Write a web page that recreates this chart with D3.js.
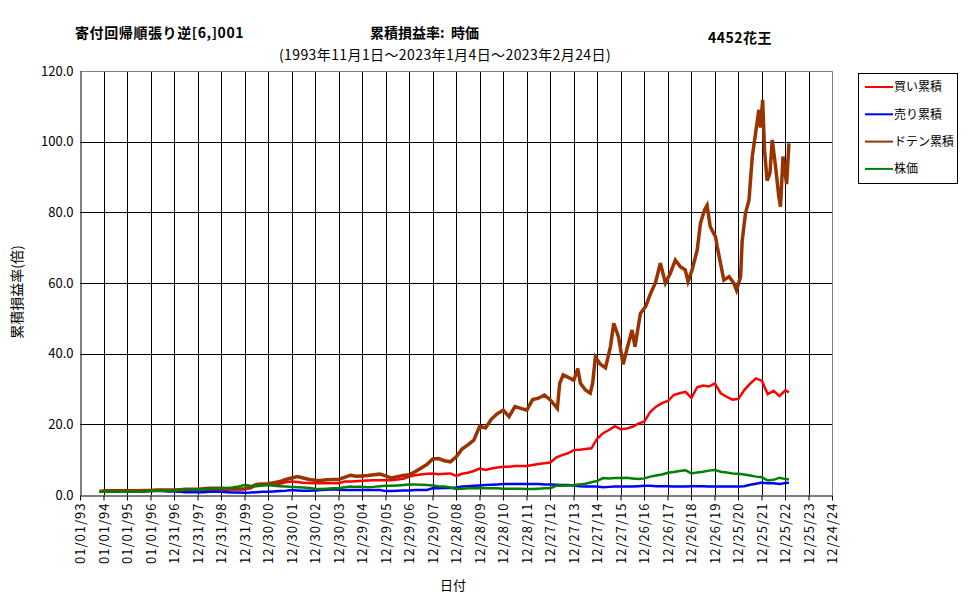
<!DOCTYPE html>
<html>
<head>
<meta charset="utf-8">
<script src="https://cdn.jsdelivr.net/npm/d3@7"></script>
<style>
  body { margin: 0; background: #fff; }
  svg { display: block; font-family: "MS PGothic", "Noto Sans CJK JP", sans-serif; }
</style>
</head>
<body>
<div id="vis"></div>
<script>
// series names, as in the legend
const seriesNames = ["買い累積", "売り累積", "ドテン累積", "株価"];

// first and last trading day, quarterly points in between (1994/01 .. 2023/01)
const firstDay = "1993-11-01";
const lastDay = "2023-02-24";

// values, one per quarterly point
const buyValues = [1.0,
  1.1, 1.1, 1.2, 1.2,   // 1994
  1.2, 1.2, 1.2, 1.2,   // 1995
  1.3, 1.3, 1.3, 1.3,   // 1996
  1.3, 1.4, 1.4, 1.4,   // 1997
  1.4, 1.5, 1.5, 1.5,   // 1998
  1.5, 1.5, 1.6, 1.6,   // 1999
  1.6, 1.9, 2.7, 2.8,   // 2000
  2.8, 2.9, 3.2, 3.6,   // 2001
  3.8, 3.7, 3.5, 3.4,   // 2002
  3.3, 3.3, 3.3, 3.3,   // 2003
  3.3, 3.8, 3.8, 3.9,   // 2004
  4.0, 4.1, 4.2, 4.2,   // 2005
  4.2, 4.2, 4.4, 4.6,   // 2006
  5.2, 5.6, 5.8, 6.0,   // 2007
  6.1, 5.9, 6.0, 6.1,   // 2008
  5.4, 6.0, 6.3, 6.8,   // 2009
  7.5, 7.1, 7.5, 7.8,   // 2010
  8.0, 8.0, 8.2, 8.2,   // 2011
  8.2, 8.5, 8.8, 9.0,   // 2012
  9.2, 10.6, 11.3, 11.8, // 2013
  12.7, 12.8, 13.0, 13.2, // 2014
  16.0, 17.5, 18.4, 19.5, // 2015
  18.6, 18.8, 19.3, 20.2, // 2016
  20.8, 23.5, 25.0, 26.0, // 2017
  26.6, 28.3, 28.8, 29.2, // 2018
  27.5, 30.5, 31.0, 30.7, // 2019
  31.6, 28.8, 27.8, 27.0, // 2020
  27.2, 29.7, 31.5, 33.0, // 2021
  32.3, 28.5, 29.5, 28.0, // 2022
  29.7, 29.0];

const sellValues = [1.0,
  1.1, 1.1, 1.1, 1.1,
  1.1, 1.1, 1.1, 1.1,
  1.1, 1.1, 1.1, 1.0,
  1.0, 0.9, 0.8, 0.8,
  0.75, 0.8, 0.9, 0.9,
  0.9, 0.8, 0.7, 0.7,
  0.66, 0.7, 0.8, 0.9,
  0.9, 1.0, 1.1, 1.2,
  1.4, 1.3, 1.2, 1.2,
  1.3, 1.4, 1.5, 1.6,
  1.5, 1.4, 1.4, 1.4,
  1.4, 1.4, 1.4, 1.4,
  1.1, 1.1, 1.2, 1.3,
  1.3, 1.4, 1.4, 1.4,
  1.9, 1.9, 2.0, 2.0,
  2.1, 2.4, 2.5, 2.6,
  2.7, 2.8, 2.9, 3.0,
  3.1, 3.1, 3.1, 3.1,
  3.1, 3.1, 3.1, 3.0,
  3.0, 2.9, 2.8, 2.8,
  2.7, 2.5, 2.4, 2.4,
  2.4, 2.2, 2.3, 2.4,
  2.4, 2.4, 2.4, 2.5,
  2.6, 2.6, 2.5, 2.5,
  2.5, 2.4, 2.4, 2.4,
  2.5, 2.5, 2.5, 2.4,
  2.4, 2.4, 2.4, 2.4,
  2.4, 2.5, 2.9, 3.2,
  3.5, 3.3, 3.3, 3.1,
  3.4, 3.5];

const stockValues = [0.9,
  0.9, 0.9, 0.9, 0.9,
  0.9, 0.9, 0.9, 0.9,
  1.1, 1.2, 1.2, 1.2,
  1.3, 1.4, 1.4, 1.4,
  1.5, 1.6, 1.7, 1.8,
  1.9, 2.0, 2.1, 2.4,
  2.8, 2.6, 2.5, 2.7,
  2.8, 2.6, 2.5, 2.4,
  2.3, 2.2, 2.1, 2.0,
  1.8, 1.7, 1.8, 1.9,
  1.9, 2.2, 2.4, 2.3,
  2.3, 2.2, 2.3, 2.5,
  2.6, 2.6, 2.7, 2.8,
  3.0, 3.0, 2.9, 2.8,
  2.7, 2.5, 2.4, 2.1,
  1.7, 1.8, 1.9, 1.9,
  1.9, 1.9, 1.9, 1.9,
  1.8, 1.8, 1.8, 1.8,
  1.7, 1.7, 1.8, 1.9,
  1.9, 2.6, 2.6, 2.7,
  2.8, 3.0, 3.2, 3.6,
  4.0, 4.8, 4.7, 4.8,
  4.8, 4.9, 4.7, 4.5,
  4.7, 5.2, 5.5, 5.8,
  6.3, 6.5, 6.8, 7.0,
  6.1, 6.4, 6.6, 6.9,
  7.1, 6.6, 6.4, 6.1,
  6.0, 5.8, 5.5, 5.2,
  5.0, 4.1, 4.3, 4.9,
  4.5, 4.4];

// ドテン: quarterly up to 2012/10, then denser readings where the line swings
const dotenValues = [1.0,
  1.1, 1.2, 1.2, 1.2,
  1.2, 1.2, 1.2, 1.3,
  1.3, 1.4, 1.4, 1.4,
  1.4, 1.5, 1.6, 1.6,
  1.6, 1.8, 1.9, 1.9,
  1.9, 1.8, 1.7, 1.7,
  1.8, 2.2, 3.0, 3.1,
  3.2, 3.5, 3.8, 4.4,
  4.8, 5.2, 4.8, 4.4,
  4.2, 4.1, 4.3, 4.4,
  4.4, 5.0, 5.6, 5.3,
  5.4, 5.5, 5.7, 5.9,
  5.4, 4.8, 5.2, 5.5,
  5.7, 6.6, 7.6, 8.6,
  10.2, 10.3, 9.7, 9.4,
  10.8, 13.0, 14.2, 15.5,
  19.5, 19.0, 21.5, 23.0,
  24.0, 22.2, 25.0, 24.5,
  24.0, 27.0, 27.4, 28.3];

const dotenDetailDates = ["2013-01-01", "2013-04-20", "2013-05-27", "2013-07-20", "2013-09-13",
  "2014-01-01", "2014-03-04", "2014-04-13", "2014-07-01", "2014-09-13", "2014-10-20", "2014-12-02",
  "2015-02-17", "2015-05-08", "2015-07-24", "2015-09-13", "2015-11-25",
  "2016-02-06", "2016-04-08", "2016-06-24", "2016-08-08", "2016-10-31",
  "2017-01-19", "2017-04-06", "2017-06-21", "2017-09-06", "2017-11-24",
  "2018-02-06", "2018-04-27", "2018-07-13", "2018-09-28", "2018-11-10",
  "2019-01-12", "2019-04-01", "2019-05-22", "2019-07-24", "2019-09-02", "2019-10-20",
  "2020-01-12", "2020-02-06", "2020-03-28", "2020-05-19", "2020-08-08", "2020-10-20", "2020-12-02",
  "2021-02-03", "2021-02-28", "2021-04-20", "2021-06-14", "2021-08-04", "2021-09-24", "2021-11-14", "2021-12-09",
  "2022-01-12", "2022-02-10", "2022-03-22", "2022-05-05", "2022-06-10", "2022-07-31", "2022-09-20",
  "2022-10-16", "2022-11-24", "2023-01-19", "2023-02-24"];
const dotenDetailValues = [26.9, 24.5, 31.6, 34.0, 33.5,
  32.5, 35.8, 31.6, 29.7, 28.8, 31.6, 39.0,
  37.0, 36.0, 42.0, 48.6, 44.8,
  37.0, 41.5, 46.7, 42.0, 51.4,
  53.3, 57.0, 60.0, 65.6, 60.0,
  62.7, 66.5, 64.6, 63.7, 60.4,
  63.7, 69.3, 76.9, 80.7, 82.0, 76.0,
  73.0, 70.3, 65.6, 60.8, 61.8, 60.0, 58.0,
  61.8, 72.0, 79.7, 83.5, 95.8, 102.4, 109.0, 104.0,
  111.8, 97.6, 89.0, 91.0, 100.5, 93.0, 84.4,
  81.6, 95.8, 88.0, 99.5];

// x axis: one label every 365 days from 01/01/93
const xTickLabels = ["01/01/93", "01/01/94", "01/01/95", "01/01/96", "12/31/96", "12/31/97",
  "12/31/98", "12/31/99", "12/30/00", "12/30/01", "12/30/02", "12/30/03", "12/29/04",
  "12/29/05", "12/29/06", "12/29/07", "12/28/08", "12/28/09", "12/28/10", "12/28/11",
  "12/27/12", "12/27/13", "12/27/14", "12/27/15", "12/26/16", "12/26/17", "12/26/18",
  "12/26/19", "12/25/20", "12/25/21", "12/25/22", "12/25/23", "12/24/24"];
const yTicks = [0, 20, 40, 60, 80, 100, 120];

// ---- layout and style
const width = 970, height = 600;
const plot = { left: 80, right: 832, top: 71, bottom: 495 };
const colours = ["#ff0000", "#0000ff", "#993300", "#008000"];
const strokeWidths = [2.5, 2.5, 3.5, 2.5];

const parse = d3.timeParse("%Y-%m-%d");
const axisStart = parse("1993-01-01");
const tickDates = xTickLabels.map((_, i) => d3.timeDay.offset(axisStart, 365 * i));

const pointDates = [parse(firstDay)]
  .concat(d3.timeMonth.range(new Date(1994, 0, 1), new Date(2023, 0, 2), 3))
  .concat([parse(lastDay)]);

function toPoints(dates, values) {
  return values.map((v, i) => ({ date: dates[i], value: v }));
}

// drawing order: red, blue, brown, green (green ends up on top)
const series = [
  toPoints(pointDates, buyValues),
  toPoints(pointDates, sellValues),
  toPoints(pointDates.slice(0, dotenValues.length), dotenValues)
    .concat(toPoints(dotenDetailDates.map(parse), dotenDetailValues)),
  toPoints(pointDates, stockValues)
];

const x = d3.scaleTime()
  .domain([axisStart, tickDates[tickDates.length - 1]])
  .range([plot.left, plot.right]);

const y = d3.scaleLinear()
  .domain([0, 120])
  .range([plot.bottom, plot.top]);

const svg = d3.select("#vis").append("svg")
  .attr("width", width)
  .attr("height", height);

// gridlines
svg.append("g").selectAll("line")
  .data(yTicks.slice(1, -1))
  .join("line")
  .attr("x1", plot.left).attr("x2", plot.right)
  .attr("y1", d => Math.round(y(d)) + 0.5).attr("y2", d => Math.round(y(d)) + 0.5)
  .attr("stroke", "#000");

svg.append("g").selectAll("line")
  .data(tickDates.slice(1, -1))
  .join("line")
  .attr("x1", d => Math.round(x(d)) + 0.5).attr("x2", d => Math.round(x(d)) + 0.5)
  .attr("y1", plot.top).attr("y2", plot.bottom)
  .attr("stroke", "#000");

// top and right frame (grey)
svg.append("path")
  .attr("d", `M${plot.left},${plot.top + 0.5}H${plot.right + 0.5}V${plot.bottom}`)
  .attr("fill", "none")
  .attr("stroke", "#808080");

// series lines
const line = d3.line()
  .x(d => x(d.date))
  .y(d => y(d.value));

svg.append("g").selectAll("path")
  .data(series)
  .join("path")
  .attr("d", d => line(d))
  .attr("fill", "none")
  .attr("stroke", (d, i) => colours[i])
  .attr("stroke-width", (d, i) => strokeWidths[i]);

// axes
const xAxis = svg.append("g")
  .attr("transform", `translate(0,${plot.bottom + 0.5})`)
  .call(d3.axisBottom(x).tickValues(tickDates).tickFormat((d, i) => xTickLabels[i]).tickSize(5).tickSizeOuter(0));
xAxis.attr("font-family", null);
xAxis.select(".domain").attr("stroke", "#000");
xAxis.selectAll(".tick line").attr("stroke", "#000");
xAxis.selectAll(".tick text")
  .attr("transform", "rotate(-90)")
  .attr("text-anchor", "end")
  .attr("x", -7)
  .attr("y", 0)
  .attr("dy", "0.35em")
  .style("font-size", "13px")
  .style("letter-spacing", "1px")
  .attr("fill", "#000");

const yAxis = svg.append("g")
  .attr("transform", `translate(${plot.left + 0.5},0)`)
  .call(d3.axisLeft(y).tickValues(yTicks).tickFormat(d3.format(".1f")).tickSize(0).tickPadding(7).tickSizeOuter(0));
yAxis.attr("font-family", null);
yAxis.select(".domain").attr("stroke", "#000");
yAxis.selectAll(".tick text")
  .style("font-size", "13px")
  .attr("fill", "#000");

// titles
svg.append("text").attr("x", 75).attr("y", 38)
  .style("font-size", "14px").style("font-weight", "bold").style("letter-spacing", "0.6px")
  .text("寄付回帰順張り逆[6,]001");
svg.append("text").attr("x", 370).attr("y", 38)
  .style("font-size", "14px").style("font-weight", "bold").style("white-space", "pre")
  .text("累積損益率:  時価");
svg.append("text").attr("x", 708).attr("y", 43)
  .style("font-size", "14px").style("font-weight", "bold").style("letter-spacing", "0.5px")
  .text("4452花王");
svg.append("text").attr("x", 445).attr("y", 60)
  .attr("text-anchor", "middle")
  .style("font-size", "14px").style("letter-spacing", "0.4px")
  .text("(1993年11月1日～2023年1月4日～2023年2月24日)");

// axis titles
svg.append("text").attr("x", 453).attr("y", 590)
  .attr("text-anchor", "middle")
  .style("font-size", "13px")
  .text("日付");
svg.append("text")
  .attr("transform", "translate(22,292) rotate(-90)")
  .attr("text-anchor", "middle")
  .style("font-size", "14px")
  .text("累積損益率(倍)");

// legend
const legend = svg.append("g").attr("transform", "translate(858,73)");
legend.append("rect")
  .attr("x", 0.5).attr("y", 0.5)
  .attr("width", 99).attr("height", 110)
  .attr("fill", "#fff").attr("stroke", "#000");
const items = legend.selectAll("g")
  .data(seriesNames)
  .join("g")
  .attr("transform", (d, i) => `translate(0,${14 + i * 27.3})`);
items.append("line")
  .attr("x1", 7).attr("x2", 35)
  .attr("stroke", (d, i) => colours[i])
  .attr("stroke-width", 2);
items.append("text")
  .attr("x", 36).attr("dy", "0.35em")
  .style("font-size", "12px")
  .text(d => d);
</script>
</body>
</html>
